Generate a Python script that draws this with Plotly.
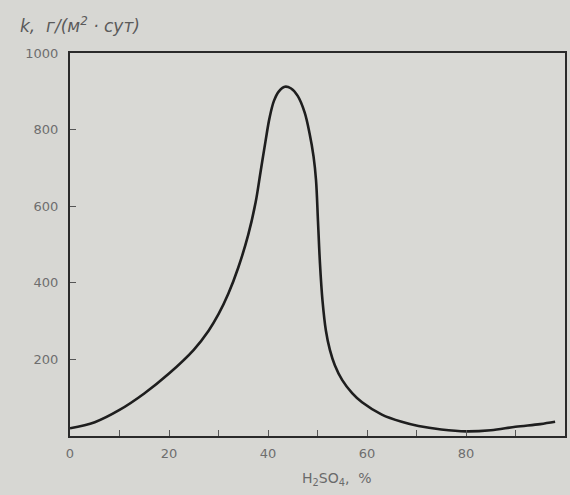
import plotly.graph_objects as go

# H2SO4 concentration, %
acid_pct = [0, 5, 10, 15, 20, 25, 28, 30, 32, 34, 36, 37.5, 38.5, 39.5, 40.3,
            41.2, 42.2, 43.4, 44.6, 46, 47.4, 48.4, 49.2, 49.7, 50.1, 50.5, 51,
            51.7, 52.5, 53.5, 55, 57, 59, 63, 67, 70.4, 75, 80, 85, 90, 95, 98]
# corrosion rate k, g/(m2*day)
rate_k = [20, 36, 68, 111, 163, 225, 275, 318, 372, 440, 525, 610, 690, 770, 830,
          875, 900, 912, 908, 888, 845, 790, 730, 668, 560, 450, 355,
          275, 225, 185, 146, 112, 88, 56, 37, 26, 17, 12, 15, 24, 31, 37]

x_tickvals = [0, 10, 20, 30, 40, 50, 60, 70, 80, 90]
x_ticktext = ["0", "", "20", "", "40", "", "60", "", "80", ""]
y_tickvals = [200, 400, 600, 800, 1000]
y_ticktext = ["200", "400", "600", "800", "1000"]

W, H = 570, 495
L, R, T, B = 70, 567, 53, 436
FONT = "DejaVu Sans, Liberation Sans, Arial, sans-serif"

fig = go.Figure()
fig.add_trace(go.Scatter(
    x=acid_pct, y=rate_k, mode="lines",
    line=dict(color="#1e1e1e", width=2.6, shape="spline", smoothing=1.0),
    hoverinfo="skip", showlegend=False,
))

axis_common = dict(
    showgrid=False, zeroline=False, showline=True, linecolor="#2a2a2a",
    linewidth=2, mirror=True, ticks="inside", ticklen=6, tickwidth=1,
    tickcolor="#555555",
    tickfont=dict(family=FONT, size=13, color="#6e6e6e"),
)

fig.update_layout(
    width=W, height=H,
    margin=dict(l=L, r=W - R, t=T, b=H - B, pad=0),
    paper_bgcolor="#d7d7d3",
    plot_bgcolor="#d9d9d5",
    xaxis=dict(range=[0, 100], tickmode="array", tickvals=x_tickvals,
               ticktext=x_ticktext, ticklabelstandoff=4, **axis_common),
    yaxis=dict(range=[0, 1000], tickmode="array", tickvals=y_tickvals,
               ticktext=y_ticktext, ticklabelstandoff=7, **axis_common),
)

pw, ph = R - L, B - T
fig.add_annotation(
    xref="paper", yref="paper",
    x=(338 - L) / pw, y=(B - 479) / ph,
    xanchor="center", yanchor="middle", showarrow=False,
    text="H<sub>2</sub>SO<sub>4</sub>,  %",
    font=dict(family=FONT, size=14, color="#6a6a6a"),
)
fig.add_annotation(
    xref="paper", yref="paper",
    x=(18 - L) / pw, y=(B - 25) / ph,
    xanchor="left", yanchor="middle", showarrow=False,
    text="<i>k,  г/(м<sup>2</sup> · сут)</i>",
    font=dict(family=FONT, size=17, color="#5a5a5a"),
)

fig.write_html(
    "out.html",
    config={"displayModeBar": False},
    post_script="document.body.style.margin='0';document.body.style.overflow='hidden';"
                "document.body.style.background='#d7d7d3';",
)
